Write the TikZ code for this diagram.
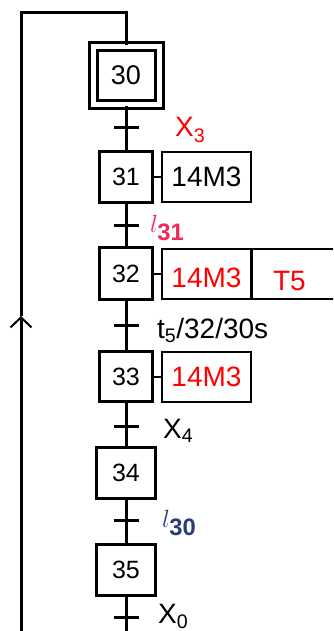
\documentclass[tikz,border=0pt]{standalone}
\usepackage{fontspec}
\setmainfont{Liberation Sans}
\usetikzlibrary{arrows.meta}

\definecolor{actred}{RGB}{255,0,0}
\definecolor{lpink}{RGB}{240,40,90}
\definecolor{lblue}{RGB}{40,60,120}

\tikzset{
    stepbox/.style={draw, line width=3pt, minimum width=53pt, minimum height=50pt, inner sep=0pt, font=\fontsize{25}{25}\selectfont},
    initstep/.style={stepbox, double, double distance=5pt, minimum width=66pt, minimum height=58pt, font=\fontsize{27}{27}\selectfont},
    actbox/.style={draw, line width=2pt, minimum width=89pt, minimum height=50pt, inner sep=0pt, font=\fontsize{28}{28}\selectfont},
    link/.style={line width=3pt},
    actlink/.style={line width=2pt},
    lbl/.style={anchor=base west, inner sep=0pt, font=\fontsize{28}{28}\selectfont},
    mlbl/.style={anchor=base west, inner sep=0pt, font=\fontsize{34}{34}\selectfont},
}

\begin{document}
\begin{tikzpicture}[x=1pt, y=-1pt]
    \def\cx{126} % x of the main line
    \def\loopx{21} % x of the return line
    \def\barHalf{12.5} % half length of the transition bars

    \useasboundingbox (0,0) rectangle (333,631);
    \clip (0,0) rectangle (333,631);

    % steps
    \node[initstep] (s30) at (\cx,75.5) {30};
    \node[stepbox] (s31) at (\cx,177) {31};
    \node[stepbox, minimum height=52pt] (s32) at (\cx,273.5) {32};
    \node[stepbox] (s33) at (\cx,376.5) {33};
    \node[stepbox, minimum width=59pt, minimum height=51pt] (s34) at (\cx,473) {34};
    \node[stepbox, minimum width=59pt, minimum height=51pt] (s35) at (\cx,570) {35};

    % actions
    \node[actbox] (a31) at (206.5,177) {14M3};
    \node[actbox, text=actred, text height=27pt, text depth=0pt] (a32) at (206.5,273.5) {14M3};
    \node[actbox, text=actred, minimum width=92pt, text width=50pt, align=left, text height=33pt, text depth=0pt] (a32t) at (298,273.5) {T5};
    \node[actbox, text=actred] (a33) at (206.5,376.5) {14M3};

    \draw[actlink] (s31.east) -- (a31.west);
    \draw[actlink] (s32.east) -- (a32.west);
    \draw[actlink] (s33.east) -- (a33.west);

    % transitions
    \coordinate (t1) at (\cx,128);
    \coordinate (t2) at (\cx,225);
    \coordinate (t3) at (\cx,325);
    \coordinate (t4) at (\cx,426);
    \coordinate (t5) at (\cx,520);
    \coordinate (t6) at (\cx,617);
    \coordinate (out) at (\cx,640);

    \draw[link] (s30.south) -- (t1) -- (s31.north);
    \draw[link] (s31.south) -- (t2) -- (s32.north);
    \draw[link] (s32.south) -- (t3) -- (s33.north);
    \draw[link] (s33.south) -- (t4) -- (s34.north);
    \draw[link] (s34.south) -- (t5) -- (s35.north);
    \draw[link] (s35.south) -- (t6) -- (out);

    \foreach \t in {t1,t2,t3,t4,t5,t6} {
        \draw[link] ([xshift=-\barHalf pt]\t) -- ([xshift=\barHalf pt]\t);
    }

    % receptivities
    \node[lbl, text=actred] (r1) at (175,137) {X\textsubscript{3}};
    \node[mlbl, text=lpink] (r2) at (150,232) {$l_{\mathbf{31}}$};
    \node[lbl] (r3) at (157,338) {t\textsubscript{5}/32/30s};
    \node[lbl] (r4) at (163,438) {X\textsubscript{4}};
    \node[mlbl, text=lblue] (r5) at (162,527) {$l_{\mathbf{30}}$};
    \node[lbl] (r6) at (158,623) {X\textsubscript{0}};

    % return line
    \coordinate (lb) at (\loopx,640);
    \coordinate (la) at (\loopx,316);
    \coordinate (lt) at (\loopx,13);
    \coordinate (lc) at (\cx,13);
    \draw[link, -{Straight Barb[length=10pt, width=21pt, line width=2pt]}] (lb) -- (la);
    \draw[link] (la) -- (lt) -- (lc) -- (s30.north);
\end{tikzpicture}
\end{document}
